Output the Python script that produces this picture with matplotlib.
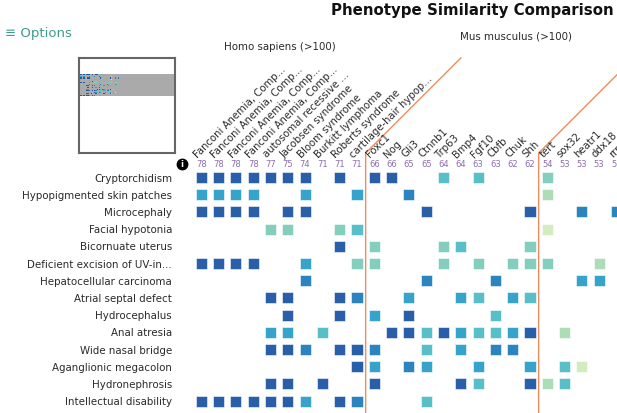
import matplotlib
matplotlib.use("Agg")
import matplotlib.pyplot as plt
from matplotlib.patches import Rectangle

title = "Phenotype Similarity Comparison"

phenotypes = [
    "Cryptorchidism", "Hypopigmented skin patches", "Microcephaly",
    "Facial hypotonia", "Bicornuate uterus", "Deficient excision of UV-in...",
    "Hepatocellular carcinoma", "Atrial septal defect", "Hydrocephalus",
    "Anal atresia", "Wide nasal bridge", "Aganglionic megacolon",
    "Hydronephrosis", "Intellectual disability",
]

models = [
    "Fanconi Anemia, Comp...", "Fanconi Anemia, Comp...", "Fanconi Anemia, Comp...",
    "Fanconi Anemia, Comp...", "autosomal recessive ...", "Jacobsen syndrome",
    "Bloom syndrome", "Burkitt lymphoma", "Roberts syndrome",
    "cartilage-hair hypop...",
    "Foxc1", "Nog", "Gli3", "Ctnnb1", "Trp63", "Bmp4", "Fgf10", "Cbfb",
    "Chuk", "Shh",
    "tert", "sox32", "heatr1", "ddx18", "rrm2",
]

scores = [78, 78, 78, 78, 77, 75, 74, 71, 71, 71,
          66, 66, 65, 65, 64, 64, 63, 63, 62, 62,
          54, 53, 53, 53, 53]

groups = ["Homo sapiens (>100)", "Mus musculus (>100)"]
group_starts = [0, 10, 20]

# similarity level per cell, 0 = no match, 7 = strongest
levels = [
    [7, 7, 7, 7, 7, 7, 7, 0, 7, 0, 7, 7, 0, 0, 4, 0, 4, 0, 0, 0, 3, 0, 0, 0, 0],
    [5, 5, 5, 5, 0, 0, 5, 0, 0, 5, 0, 0, 6, 0, 0, 0, 0, 0, 0, 0, 2, 0, 0, 0, 0],
    [7, 7, 7, 7, 0, 7, 7, 0, 0, 0, 0, 0, 0, 7, 0, 0, 0, 0, 0, 7, 0, 0, 6, 0, 6],
    [0, 0, 0, 0, 3, 3, 0, 0, 3, 4, 0, 0, 0, 0, 0, 0, 0, 0, 0, 0, 1, 0, 0, 0, 0],
    [0, 0, 0, 0, 0, 0, 0, 0, 7, 0, 3, 0, 0, 0, 3, 4, 0, 0, 0, 3, 0, 0, 0, 0, 0],
    [7, 7, 7, 7, 0, 0, 5, 0, 0, 3, 3, 0, 0, 0, 3, 0, 3, 0, 3, 3, 3, 0, 0, 2, 0],
    [0, 0, 0, 0, 0, 0, 6, 0, 0, 0, 0, 0, 0, 6, 0, 0, 0, 6, 0, 0, 0, 0, 5, 5, 0],
    [0, 0, 0, 0, 7, 7, 0, 0, 7, 6, 0, 0, 5, 0, 0, 5, 4, 0, 5, 4, 0, 0, 0, 0, 0],
    [0, 0, 0, 0, 0, 7, 0, 0, 7, 0, 5, 0, 7, 0, 0, 0, 0, 4, 0, 0, 0, 0, 0, 0, 0],
    [0, 0, 0, 0, 5, 5, 0, 4, 0, 0, 0, 7, 7, 4, 7, 5, 4, 4, 5, 7, 0, 2, 0, 0, 0],
    [0, 0, 0, 0, 7, 7, 6, 0, 7, 7, 6, 0, 0, 4, 0, 5, 0, 6, 6, 0, 0, 0, 0, 0, 0],
    [0, 0, 0, 0, 0, 0, 0, 0, 0, 7, 5, 0, 6, 5, 0, 0, 5, 0, 0, 5, 0, 4, 1, 0, 0],
    [0, 0, 0, 0, 7, 7, 0, 7, 0, 0, 7, 0, 0, 0, 0, 7, 4, 0, 0, 7, 2, 4, 0, 0, 0],
    [7, 7, 7, 7, 7, 7, 5, 0, 7, 6, 0, 0, 0, 4, 0, 0, 0, 0, 0, 0, 0, 0, 0, 0, 0],
]

palette = {1: "#d0ecbb", 2: "#a9dcb5", 3: "#7fcdbb", 4: "#52bcc5",
           5: "#2ea0c9", 6: "#2480bd", 7: "#2259a6"}

line_color = "#ef8c5e"
score_color = "#8b6db2"
text_color = "#2a2a2a"

fig = plt.figure(figsize=(6.17, 4.14), dpi=100)
ax = fig.add_axes([0, 0, 1, 1])
ax.set_xlim(-11.636, 24.03)
ax.set_ylim(13.69, -10.38)
ax.axis("off")

sq = 0.64
for r, row in enumerate(levels):
    for c, lv in enumerate(row):
        if lv:
            ax.add_patch(Rectangle((c - sq / 2, r - sq / 2), sq, sq,
                                   facecolor=palette[lv], edgecolor="white",
                                   linewidth=0.4, alpha=0.97))

for r, name in enumerate(phenotypes):
    ax.text(-1.69, r, name, ha="right", va="center", fontsize=7.4, color=text_color)

for c, (name, s) in enumerate(zip(models, scores)):
    ax.text(c - 0.22, -1.18, name, rotation=45, rotation_mode="anchor",
            ha="left", va="baseline", fontsize=7.3, color=text_color)
    ax.text(c, -0.79, str(s), ha="center", va="center", fontsize=6, color=score_color)

# info icon
ax.plot(-1.12, -0.79, "o", color="black", markersize=7.5)
ax.text(-1.12, -0.79, "i", ha="center", va="center", fontsize=6,
        color="white", fontweight="bold")

# group separators
nrows = len(phenotypes)
for g in group_starts[1:]:
    x = g - 0.5
    ax.plot([x, x, x + 5.5], [nrows + 1, -1.42, -6.95], color=line_color, lw=1)

ax.text(4.55, -7.65, groups[0], ha="center", va="center", fontsize=7.4, color=text_color)
ax.text(18.19, -8.28, groups[1], ha="center", va="center", fontsize=7.4, color=text_color)

fig.text(614 / 617, 1 - 10 / 414, title, ha="right", va="center",
         fontsize=10.8, fontweight="bold", color="#111111")
fig.text(5 / 617, 1 - 33 / 414, "\u2261 Options", ha="left", va="center",
         fontsize=9.5, color="#3d9b8c")

# overview thumbnail (only the visible part of the matrix is known)
tx = fig.add_axes([79.3 / 617, 1 - 154 / 414, 95.4 / 617, 94.7 / 414])
tx.set_xlim(0, 60)
tx.set_ylim(60, 0)
tx.set_xticks([])
tx.set_yticks([])
for sp in tx.spines.values():
    sp.set_color("#666666")
    sp.set_linewidth(1.5)
tx.add_patch(Rectangle((0, 10), 60, 14, facecolor="#aaaaaa", edgecolor="none"))
for r, row in enumerate(levels):
    for c, lv in enumerate(row):
        if lv:
            tx.add_patch(Rectangle((c + 0.15, r + 10.15), 0.7, 0.7,
                                   facecolor=palette[lv], edgecolor="none"))

fig.savefig("out.png", dpi=100)
